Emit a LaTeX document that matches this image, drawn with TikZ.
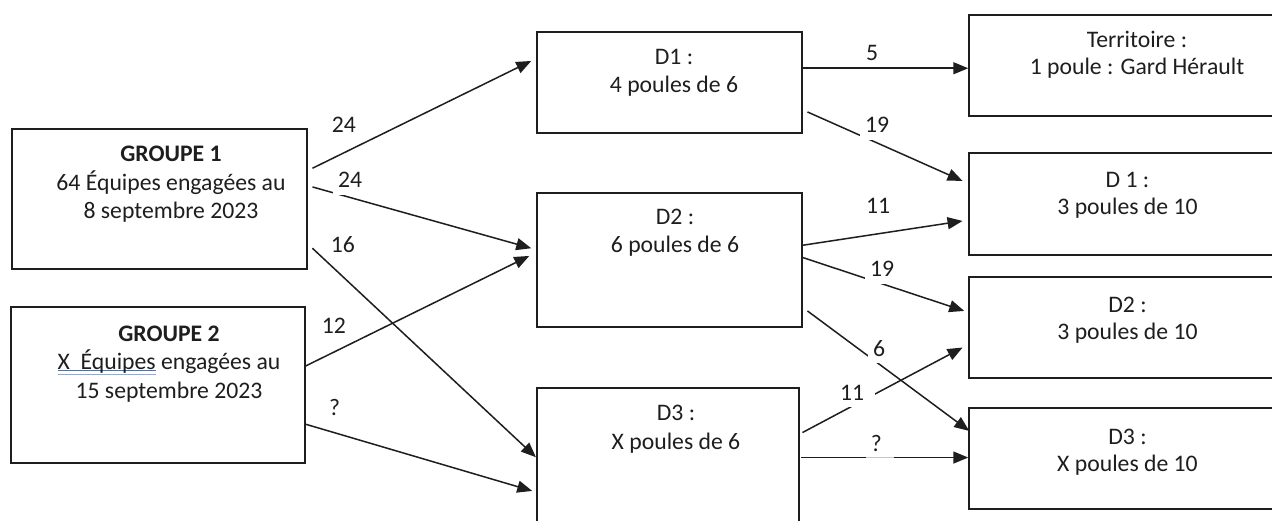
\documentclass[tikz,border=0pt]{standalone}
\usepackage{fontspec}
\setmainfont{Carlito}
\usetikzlibrary{arrows.meta}
\definecolor{spell}{RGB}{68,114,196}
\definecolor{ink}{RGB}{30,30,30}
\newcommand\blueuu[1]{\setbox0=\hbox{#1}\rlap{\color{spell}\rule[-1.7pt]{\wd0}{1.2pt}}\rlap{\color{spell!60}\rule[-5.2pt]{\wd0}{1.2pt}}\box0\relax}
\begin{document}
\begin{tikzpicture}[x=1pt,y=-1pt,
  box/.style={draw=ink,line width=1.5pt,rectangle,inner sep=0pt},
  txt/.style={align=center,anchor=base,inner sep=0pt,text=ink,font=\fontsize{23.7}{28.5}\selectfont},
  txtr/.style={txt,font=\fontsize{23.7}{27}\selectfont},
  arr/.style={draw=ink,line width=1.5pt,-{Triangle[length=15pt,width=12pt]}},
  lbl/.style={fill=white,text=ink,inner xsep=5pt,inner ysep=0pt,text height=15pt,text depth=7pt,anchor=base west,font=\fontsize{23.7}{28}\selectfont}]
\useasboundingbox (0,0) rectangle (1272,521);
\fill[white] (0,0) rectangle (1272,521);
\begin{scope}
\clip (0,0) rectangle (1272,521);
% boxes
\node[box,minimum width=295pt,minimum height=140pt] (g1) at (159.5,199) {};
\node[box,minimum width=294pt,minimum height=156pt] (g2) at (158,385) {};
\node[box,minimum width=265pt,minimum height=101pt] (d1) at (669.5,82.5) {};
\node[box,minimum width=265pt,minimum height=134pt] (d2) at (669.5,260) {};
\node[box,minimum width=262pt,minimum height=180pt] (d3) at (668,478) {};
\node[box,minimum width=326pt,minimum height=101pt] (t) at (1132,65.5) {};
\node[box,minimum width=326pt,minimum height=102pt] (r1) at (1132,204) {};
\node[box,minimum width=326pt,minimum height=101pt] (r2) at (1132,327.5) {};
\node[box,minimum width=326pt,minimum height=101pt] (r3) at (1132,458.5) {};
% texts (anchor = baseline of the last line)
\node[txt] (g1t) at (171,219) {\textbf{GROUPE 1}\\64 Équipes engagées au\\8 septembre 2023};
\node[txt] (g2t) at (169,398) {\textbf{GROUPE 2}\\\blueuu{X\ \ Équipes} engagées au\\15 septembre 2023};
\node[txt] (d1t) at (674,92.7) {D1 :\\4 poules de 6};
\node[txt] (d2t) at (675,252.7) {D2 :\\6 poules de 6};
\node[txt] (d3t) at (676,449) {D3 :\\X poules de 6};
\node[txtr] (tt) at (1137,74.5) {Territoire :\\1 poule : Gard Hérault};
\node[txtr] (r1t) at (1127.5,215) {D 1 :\\3 poules de 10};
\node[txtr] (r2t) at (1127.5,339.5) {D2 :\\3 poules de 10};
\node[txtr] (r3t) at (1127.5,471.5) {D3 :\\X poules de 10};
% connectors
\draw[arr] ([shift={(4.7,40)}]g1.north east) -- ([shift={(-5,29.7)}]d1.north west);
\draw[arr] ([shift={(4.7,58.7)}]g1.north east) -- ([shift={(-5,56)}]d2.north west);
\draw[arr] ([shift={(4.7,120)}]g1.north east) -- ([shift={(-0.3,70)}]d3.north west);
\draw[arr] ([shift={(0,59.7)}]g2.north east) -- ([shift={(-7,63.7)}]d2.north west);
\draw[arr] ([shift={(0,118)}]g2.north east) -- ([shift={(-4,103.7)}]d3.north west);
\draw[arr] ([shift={(0,37)}]d1.north east) -- ([shift={(0,54)}]t.north west);
\draw[arr] ([shift={(4.7,80.7)}]d1.north east) -- ([shift={(-5.7,28.7)}]r1.north west);
\draw[arr] ([shift={(0,53)}]d2.north east) -- ([shift={(-5.7,68.7)}]r1.north west);
\draw[arr] ([shift={(0,65.3)}]d2.north east) -- ([shift={(-4,34.7)}]r2.north west);
\draw[arr] ([shift={(4.7,118.7)}]d2.north east) -- ([shift={(1,23.7)}]r3.north west);
\draw[arr] ([shift={(2.7,45.3)}]d3.north east) -- ([shift={(-5.7,71.3)}]r2.north west);
\draw[arr] ([shift={(1,70.3)}]d3.north east) -- ([shift={(0,50.3)}]r3.north west);
% labels
\node[lbl] (l1) at (326.7,132.7) {24};
\node[lbl] (l2) at (333,188) {24};
\node[lbl] (l3) at (325.7,252.7) {16};
\node[lbl] (l4) at (316.7,333.3) {12};
\node[lbl] (l5) at (324,415) {?};
\node[lbl,fill=none] (l6) at (861,60.7) {5};
\node[lbl] (l7) at (860,132.7) {19};
\node[lbl] (l8) at (861,213.3) {11};
\node[lbl] (l9) at (865,276.7) {19};
\node[lbl] (l10) at (868,356) {6};
\node[lbl,text width=30pt,align=left] (l11) at (835,400) {11};
\node[lbl,text width=18pt,align=left,text depth=6.4pt,fill opacity=0.75,text opacity=1] (l12) at (865.7,451.7) {?};
\end{scope}
\end{tikzpicture}
\end{document}
